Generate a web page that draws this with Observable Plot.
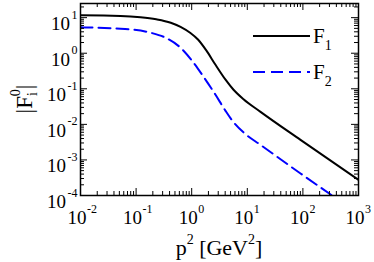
<!DOCTYPE html>
<html><head><meta charset="utf-8">
<script src="https://cdn.jsdelivr.net/npm/d3@7"></script>
<script src="https://cdn.jsdelivr.net/npm/@observablehq/plot@0.6"></script>
<style>
html,body{margin:0;padding:0;background:#fff;}
#chart svg{display:block;}
#chart svg, #chart svg text, #chart svg tspan{font-family:"Liberation Serif","DejaVu Serif",serif !important;}
</style>
</head><body><div id="chart"></div>
<script>
// Data (p^2 in GeV^2, |F_i^0|)
const p2F1 = [0.01, 0.0524, 0.12, 0.23, 0.42, 0.63, 0.95, 1.31, 1.83, 2.66, 4.06, 5.65, 8.55, 17.3, 90.6, 1000];
const F1   = [11.6, 11.2, 10.3, 9.0, 7.2, 5.5, 3.7, 2.4, 1.2, 0.48, 0.18, 0.094, 0.051, 0.0225, 0.00366, 0.000274];
const p2F2 = [0.01, 0.0524, 0.182, 0.338, 0.629, 1.08, 1.63, 2.68, 4.06, 5.65, 9.29, 17.3, 90.6, 327];
const F2   = [5.33, 4.90, 3.78, 2.73, 1.43, 0.54, 0.218, 0.0678, 0.024, 0.0115, 0.0053, 0.00265, 0.000417, 0.000103];
const seriesNames = ["F", "F"];
const seriesSubs = ["1", "2"];
const xMajor = [1e-2, 1e-1, 1, 10, 100, 1000];
const xExp = ["-2", "-1", "0", "1", "2", "3"];
const yMajor = [1e-4, 1e-3, 1e-2, 1e-1, 1, 10];
const yExp = ["-4", "-3", "-2", "-1", "0", "1"];

const W = 374, H = 262, mL = 80, mR = 16, mT = 3, mB = 67;
const iw = W - mL - mR, ih = H - mT - mB;
const font = "Liberation Serif, DejaVu Serif, serif";

const minors = (lo, hi, max) => { const a = []; for (let e = lo; e < hi; e++) for (let k = 2; k <= 9; k++) { const v = k * 10 ** e; if (v < max) a.push(v); } return a; };
const xMinor = minors(-2, 3, 1001);
const yMinor = minors(-4, 2, 25);

const f1 = p2F1.map((x, i) => ({x, y: F1[i]}));
const f2 = p2F2.map((x, i) => ({x, y: F2[i]}));
const xT = xMajor.map((v, i) => ({v, e: xExp[i]}));
const yT = yMajor.map((v, i) => ({v, e: yExp[i]}));

const MJ = 7, MN = 4;
const plot = Plot.plot({
  width: W, height: H, marginLeft: mL, marginRight: mR, marginTop: mT, marginBottom: mB,
  x: {type: "log", domain: [1e-2, 1e3], axis: null},
  y: {type: "log", domain: [1e-4, 25], axis: null},
  style: {fontFamily: font, background: "#fff", color: "#000"},
  marks: [
    Plot.line(f1, {x: "x", y: "y", stroke: "#000", strokeWidth: 2, curve: "monotone-x", clip: true}),
    Plot.line(f2, {x: "x", y: "y", stroke: "#0000ff", strokeWidth: 2, strokeDasharray: "12,6", curve: "monotone-x", clip: true}),
    Plot.tickX(xMajor, {x: d => d, insetTop: ih - MJ, stroke: "#000"}),
    Plot.tickX(xMinor, {x: d => d, insetTop: ih - MN, stroke: "#000"}),
    Plot.tickX(xMajor, {x: d => d, insetBottom: ih - MJ, stroke: "#000"}),
    Plot.tickX(xMinor, {x: d => d, insetBottom: ih - MN, stroke: "#000"}),
    Plot.tickY(yMajor, {y: d => d, insetRight: iw - MJ, stroke: "#000"}),
    Plot.tickY(yMinor, {y: d => d, insetRight: iw - MN, stroke: "#000"}),
    Plot.tickY(yMajor, {y: d => d, insetLeft: iw - MJ, stroke: "#000"}),
    Plot.tickY(yMinor, {y: d => d, insetLeft: iw - MN, stroke: "#000"}),
    Plot.frame({stroke: "#000", strokeWidth: 1.5}),
    Plot.text(xT, {x: "v", frameAnchor: "bottom", text: () => "10", textAnchor: "end", lineAnchor: "bottom", dx: 6, dy: 28, fontSize: 19, fill: "#000"}),
    Plot.text(xT, {x: "v", frameAnchor: "bottom", text: "e", textAnchor: "start", lineAnchor: "bottom", dx: 6.5, dy: 17, fontSize: 12, fill: "#000"}),
    Plot.text(yT, {y: "v", frameAnchor: "left", text: "e", textAnchor: "end", lineAnchor: "bottom", dx: -3, dy: 1, fontSize: 12, fill: "#000"}),
    Plot.text(yT.filter(d => d.e.startsWith("-")), {y: "v", frameAnchor: "left", text: () => "10", textAnchor: "end", lineAnchor: "bottom", dx: -14.5, dy: 12.5, fontSize: 19, fill: "#000"}),
    Plot.text(yT.filter(d => !d.e.startsWith("-")), {y: "v", frameAnchor: "left", text: () => "10", textAnchor: "end", lineAnchor: "bottom", dx: -10.5, dy: 12.5, fontSize: 19, fill: "#000"})
  ]
});
document.getElementById("chart").appendChild(plot);

const svg = d3.select(plot);
const xt = svg.append("text").attr("x", mL + iw / 2).attr("y", 255).attr("text-anchor", "middle")
  .attr("font-family", font).attr("font-size", 22).attr("fill", "#000");
xt.append("tspan").text("p");
xt.append("tspan").attr("dy", -11).attr("font-size", 14).text("2");
xt.append("tspan").attr("dy", 11).text(" [GeV");
xt.append("tspan").attr("dy", -11).attr("font-size", 14).text("2");
xt.append("tspan").attr("dy", 11).text("]");

const yt = svg.append("text").attr("transform", `translate(32,${mT + ih / 2}) rotate(-90)`).attr("text-anchor", "middle")
  .attr("font-family", font).attr("font-size", 23).attr("fill", "#000");
yt.append("tspan").text("|F");
yt.append("tspan").attr("dy", 5).attr("font-size", 14).text("i");
yt.append("tspan").attr("dx", -4).attr("dy", -17).attr("font-size", 14).text("0");
yt.append("tspan").attr("dy", 12).text("|");

const leg = [{y: 36, stroke: "#000", dash: null}, {y: 72, stroke: "#0000ff", dash: "12,6"}];
leg.forEach((l, i) => {
  svg.append("line").attr("x1", 253).attr("x2", 310).attr("y1", l.y).attr("y2", l.y)
    .attr("stroke", l.stroke).attr("stroke-width", 2).attr("stroke-dasharray", l.dash);
  const t = svg.append("text").attr("x", 313).attr("y", l.y + 7).attr("text-anchor", "start").attr("font-family", font).attr("font-size", 21).attr("fill", "#000");
  t.append("tspan").text(seriesNames[i]);
  t.append("tspan").attr("dy", 7).attr("font-size", 14).text(seriesSubs[i]);
});
</script>
</body></html>
